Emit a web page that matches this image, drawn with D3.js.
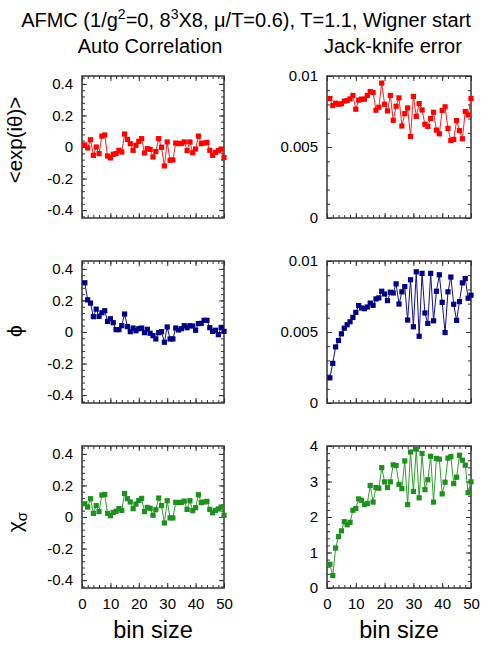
<!DOCTYPE html>
<html><head><meta charset="utf-8">
<script src="https://cdn.jsdelivr.net/npm/d3@7"></script>
<style>
body{margin:0;background:#fff}
svg{display:block}
text{font-family:"Liberation Sans",Arial,Helvetica,sans-serif;fill:#000}
</style>
</head><body>
<svg id="c" width="491" height="647"></svg>
<script>
// ---------------- data ----------------
const binSize = [1,2,3,4,5,6,7,8,9,10,11,12,13,14,15,16,17,18,19,20,21,22,23,24,25,
  26,27,28,29,30,31,32,33,34,35,36,37,38,39,40,41,42,43,44,45,46,47,48,49,50];

const expAuto = [0.013,-0.006,0.046,-0.053,0.000,-0.042,0.069,0.076,-0.057,-0.069,
  -0.046,-0.042,-0.021,-0.032,0.082,0.048,0.021,-0.021,0.011,0.036,
  0.053,-0.038,-0.011,-0.015,-0.063,-0.029,0.053,-0.002,-0.120,0.032,
  -0.084,-0.082,0.025,0.021,0.023,0.032,-0.023,0.032,-0.036,-0.013,
  0.069,0.021,0.025,0.029,-0.021,-0.053,-0.034,-0.023,-0.013,-0.067];

const expJack = [0.00842,0.00792,0.00809,0.00801,0.00804,0.00823,0.00827,0.00839,0.00863,0.00766,
  0.00830,0.00837,0.00837,0.00863,0.00891,0.00884,0.00759,0.00780,0.00950,0.00801,
  0.00754,0.00863,0.00688,0.00787,0.00846,0.00648,0.00735,0.00775,0.00574,0.00856,
  0.00716,0.00806,0.00761,0.00660,0.00645,0.00700,0.00745,0.00619,0.00593,0.00757,
  0.00783,0.00631,0.00546,0.00553,0.00686,0.00615,0.00558,0.00750,0.00726,0.00842];

const phiAuto = [0.312,0.204,0.183,0.097,0.145,0.099,0.122,0.135,0.067,0.084,
  0.059,0.015,0.015,0.040,0.114,0.034,0.002,0.025,0.008,0.021,
  0.025,-0.004,0.017,-0.008,-0.023,-0.044,-0.004,0.002,-0.065,0.032,
  -0.044,-0.044,0.025,0.013,0.021,0.040,0.027,0.040,0.038,0.011,
  0.053,0.055,0.074,0.074,0.027,0.004,0.011,-0.017,0.029,0.004];

const phiJack = [0.00177,0.00279,0.00395,0.00440,0.00487,0.00527,0.00551,0.00572,0.00603,0.00638,
  0.00686,0.00669,0.00664,0.00676,0.00704,0.00688,0.00733,0.00740,0.00787,0.00768,
  0.00721,0.00780,0.00775,0.00839,0.00697,0.00783,0.00820,0.00584,0.00868,0.00537,
  0.00924,0.00470,0.00913,0.00634,0.00560,0.00913,0.00579,0.00787,0.00903,0.00709,
  0.00496,0.00783,0.00887,0.00695,0.00582,0.00714,0.00846,0.00877,0.00738,0.00759];

const chiAuto = [0.084,0.063,0.116,0.023,0.072,0.034,0.139,0.143,0.023,0.008,
  0.029,0.036,0.053,0.042,0.149,0.116,0.095,0.053,0.082,0.105,
  0.118,0.034,0.061,0.055,0.011,0.046,0.120,0.072,-0.038,0.103,
  -0.006,-0.006,0.093,0.091,0.093,0.101,0.048,0.103,0.040,0.059,
  0.141,0.091,0.095,0.099,0.048,0.027,0.042,0.051,0.063,0.011];

const chiJack = [0.67,0.35,1.125,1.447,1.61,1.87,1.78,1.85,2.19,2.24,
  2.51,2.47,2.35,2.38,2.89,2.42,2.83,2.81,3.39,2.99,
  2.83,2.99,3.47,3.45,2.92,2.80,3.58,2.35,3.83,2.72,
  3.91,2.54,3.79,2.77,3.05,3.71,2.42,3.65,3.63,2.65,
  2.98,3.66,3.70,2.94,3.12,3.74,3.60,3.46,2.69,2.99];

const xTicks = [0,10,20,30,40,50];
const autoTicks = [-0.4,-0.2,0,0.2,0.4];
const autoTickLabels = ["-0.4","-0.2","0","0.2","0.4"];
const jackTicks = [0,0.005,0.01];
const jackTickLabels = ["0","0.005","0.01"];
const chiJackTicks = [0,1,2,3,4];
const chiJackTickLabels = ["0","1","2","3","4"];

const colors = ["#ff0000","#000080","#1f8f1f"];
const lineColors = ["#ff2020","#101090","#2f9f2f"];

// ---------------- layout ----------------
const svg = d3.select("#c");
const colX = [[82,224],[327,471]];
const rowY = [[76,218],[261,403],[446,588]];

function minorRange(a,b,s){const r=[];for(let v=a;v<=b+1e-9;v+=s)r.push(+v.toFixed(6));return r;}

function panel(col,row,vals,yDomain,yTicks,yLabels,yMinor,showX,ci){
  const [x0,x1]=colX[col],[y0,y1]=rowY[row];
  const x=d3.scaleLinear().domain([0,50]).range([x0,x1]);
  const y=d3.scaleLinear().domain(yDomain).range([y1,y0]);
  const g=svg.append("g");
  const xMinor=minorRange(0,50,2);
  const add=(axis)=>{const a=g.append("g").call(axis);a.select(".domain").remove();a.selectAll("line").attr("stroke","#333").attr("stroke-width",1);return a;};
  add(d3.axisBottom(x).tickValues(xMinor).tickSize(-3).tickFormat("")).attr("transform",`translate(0,${y1})`);
  add(d3.axisTop(x).tickValues(xMinor).tickSize(-3).tickFormat("")).attr("transform",`translate(0,${y0})`);
  const xb=add(d3.axisBottom(x).tickValues(xTicks).tickSize(-5).tickPadding(10).tickFormat(d3.format("d"))).attr("transform",`translate(0,${y1})`);
  xb.selectAll("text").attr("font-size",15).attr("font-family","Liberation Sans, Arial, sans-serif").style("display",showX?null:"none");
  add(d3.axisTop(x).tickValues(xTicks).tickSize(-5).tickFormat("")).attr("transform",`translate(0,${y0})`);
  add(d3.axisLeft(y).tickValues(yMinor).tickSize(-3).tickFormat("")).attr("transform",`translate(${x0},0)`);
  add(d3.axisRight(y).tickValues(yMinor).tickSize(-3).tickFormat("")).attr("transform",`translate(${x1},0)`);
  const yl=add(d3.axisLeft(y).tickValues(yTicks).tickSize(-5).tickPadding(9).tickFormat((d,i)=>yLabels[i])).attr("transform",`translate(${x0},0)`);
  yl.selectAll("text").attr("font-size",15).attr("font-family","Liberation Sans, Arial, sans-serif");
  add(d3.axisRight(y).tickValues(yTicks).tickSize(-5).tickFormat("")).attr("transform",`translate(${x1},0)`);
  g.append("rect").attr("x",x0).attr("y",y0).attr("width",x1-x0).attr("height",y1-y0)
    .attr("fill","none").attr("stroke","#333").attr("stroke-width",1.5);
  const data=binSize.map((b,i)=>({b,v:vals[i]}));
  g.append("path").datum(data).attr("fill","none").attr("stroke",lineColors[ci]).attr("stroke-width",1)
    .attr("d",d3.line().x(d=>x(d.b)).y(d=>y(d.v)));
  g.selectAll("rect.m").data(data).join("rect").attr("class","m")
    .attr("x",d=>x(d.b)-2.6).attr("y",d=>y(d.v)-2.6).attr("width",5.2).attr("height",5.2).attr("fill",colors[ci]);
}

const autoMinor=minorRange(-0.44,0.44,0.04);
const jackMinor=minorRange(0,0.01,0.001);
const chiMinor=minorRange(0,4,0.2);

panel(0,0,expAuto,[-0.45,0.45],autoTicks,autoTickLabels,autoMinor,false,0);
panel(1,0,expJack,[0,0.01],jackTicks,jackTickLabels,jackMinor,false,0);
panel(0,1,phiAuto,[-0.45,0.45],autoTicks,autoTickLabels,autoMinor,false,1);
panel(1,1,phiJack,[0,0.01],jackTicks,jackTickLabels,jackMinor,false,1);
panel(0,2,chiAuto,[-0.45,0.45],autoTicks,autoTickLabels,autoMinor,true,2);
panel(1,2,chiJack,[0,4],chiJackTicks,chiJackTickLabels,chiMinor,true,2);

// ---------------- texts ----------------
const t=svg.append("text").attr("x",246).attr("y",27).attr("text-anchor","middle").attr("font-size",20);
t.append("tspan").text("AFMC (1/g");
t.append("tspan").text("2").attr("font-size",14).attr("dy",-8);
t.append("tspan").text("=0, 8").attr("dy",8);
t.append("tspan").text("3").attr("font-size",14).attr("dy",-8);
t.append("tspan").text("X8, \u03bc/T=0.6), T=1.1, Wigner start").attr("dy",8);

svg.append("text").attr("x",150).attr("y",53).attr("text-anchor","middle").attr("font-size",20).text("Auto Correlation");
svg.append("text").attr("x",393).attr("y",53).attr("text-anchor","middle").attr("font-size",20).text("Jack-knife error");

svg.append("text").attr("transform","translate(22,140) rotate(-90)").attr("text-anchor","middle").attr("font-size",20.5).text("<exp(i\u03b8)>");
svg.append("text").attr("transform","translate(22,331) rotate(-90)").attr("text-anchor","middle").attr("font-size",21)
  .attr("font-family","DejaVu Sans, sans-serif").text("\u03d5");
const chi=svg.append("text").attr("transform","translate(22,522) rotate(-90)").attr("text-anchor","middle").attr("font-size",21);
chi.append("tspan").text("\u03c7");
chi.append("tspan").text("\u03c3").attr("font-size",15).attr("dy",5);

svg.append("text").attr("x",153).attr("y",638).attr("text-anchor","middle").attr("font-size",23.5).text("bin size");
svg.append("text").attr("x",399).attr("y",638).attr("text-anchor","middle").attr("font-size",23.5).text("bin size");
</script>
</body></html>
